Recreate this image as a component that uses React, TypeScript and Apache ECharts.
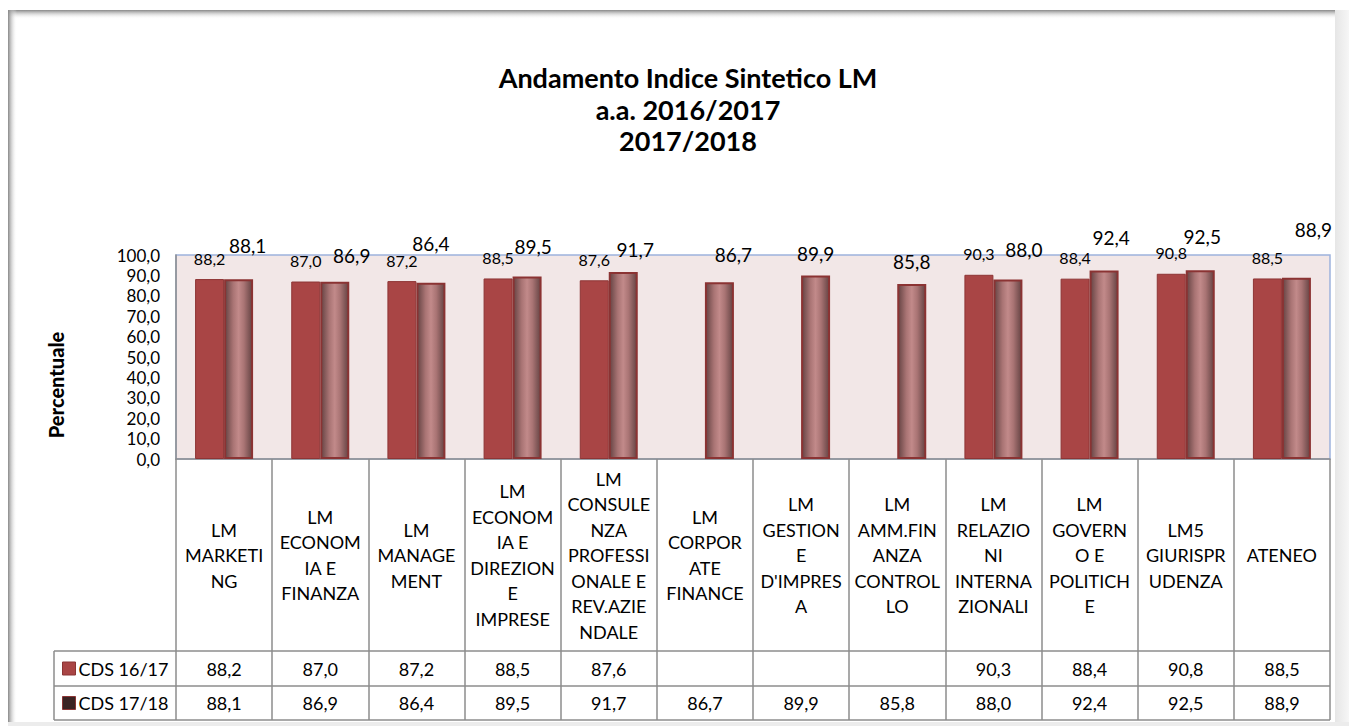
import React, { useEffect, useRef } from "react";
import * as echarts from "echarts";

const categories = [
  "LM\nMARKETI\nNG",
  "LM\nECONOM\nIA E\nFINANZA",
  "LM\nMANAGE\nMENT",
  "LM\nECONOM\nIA E\nDIREZION\nE\nIMPRESE",
  "LM\nCONSULE\nNZA\nPROFESSI\nONALE E\nREV.AZIE\nNDALE",
  "LM\nCORPOR\nATE\nFINANCE",
  "LM\nGESTION\nE\nD'IMPRES\nA",
  "LM\nAMM.FIN\nANZA\nCONTROL\nLO",
  "LM\nRELAZIO\nNI\nINTERNA\nZIONALI",
  "LM\nGOVERN\nO E\nPOLITICH\nE",
  "LM5\nGIURISPR\nUDENZA",
  "ATENEO",
];

const seriesNames = ["CDS 16/17", "CDS 17/18"];
const cds1617: (number | null)[] = [88.2, 87.0, 87.2, 88.5, 87.6, null, null, null, 90.3, 88.4, 90.8, 88.5];
const cds1718: number[] = [88.1, 86.9, 86.4, 89.5, 91.7, 86.7, 89.9, 85.8, 88.0, 92.4, 92.5, 88.9];

const yTicks = { min: 0, max: 100, interval: 10 };

// label nudges (style only) for the 17/18 data labels, as placed in the original
const labelNudgeX = [9, 17, 0, 6, 12, 14, 0, 0, 16, 7, 2, 17];
const labelNudgeY = [-11, -4, -17, -7, 0, -5, 0, 0, -7, -11, -11, -26];

const fmt = (v: number | null | undefined) =>
  v === null || v === undefined ? "" : v.toFixed(1).replace(".", ",");

const FONT = "Lato";

export default function App() {
  const ref = useRef<HTMLDivElement>(null);

  useEffect(() => {
    if (!ref.current) return;
    const chart = echarts.init(ref.current, null, { renderer: "svg" });

    const gridLeft = 176;
    const gridTop = 255;
    const gridRight = 1349 - 1330;
    const gridBottom = 726 - 459;
    const axisY = 459;
    const row1Top = 651;
    const row2Top = 686;
    const tableBottom = 720;
    const tableLeft = 54;
    const tableRight = 1330;
    const lineColor = "#8c8c8c";

    const option: any = {
      animation: false,
      backgroundColor: "#ffffff",
      title: {
        text: "Andamento Indice Sintetico LM\na.a. 2016/2017\n2017/2018",
        left: 688,
        top: 62,
        textAlign: "center",
        padding: 0,
        textStyle: {
          fontFamily: FONT,
          fontWeight: "bold",
          fontSize: 27,
          lineHeight: 31.5,
          color: "#000",
        },
      },
      grid: {
        left: gridLeft,
        top: gridTop,
        right: gridRight,
        bottom: gridBottom,
        show: true,
        backgroundColor: "#F2E7E7",
        borderColor: "#9DB3DD",
        borderWidth: 1.5,
      },
      legend: {
        orient: "vertical",
        left: 62,
        top: 659.5,
        itemWidth: 13,
        itemHeight: 13,
        itemGap: 16.5,
        icon: "rect",
        padding: 0,
        selectedMode: false,
        textStyle: { fontFamily: FONT, fontSize: 18, color: "#000", padding: [0, 0, 0, -2] },
        data: [
          { name: seriesNames[0], itemStyle: { color: "#A94545", borderColor: "#8B3434", borderWidth: 1 } },
          { name: seriesNames[1], itemStyle: { color: "#3A2222", borderColor: "#8B3434", borderWidth: 1 } },
        ],
      },
      xAxis: [
        {
          type: "category",
          data: categories,
          position: "bottom",
          axisLine: { show: true, lineStyle: { color: lineColor, width: 1.5 } },
          axisTick: {
            show: true,
            length: tableBottom - axisY,
            lineStyle: { color: lineColor, width: 1.5 },
          },
          axisLabel: {
            interval: 0,
            margin: 96,
            verticalAlign: "middle",
            fontFamily: FONT,
            fontSize: 18,
            lineHeight: 25.5,
            color: "#000",
            align: "center",
          },
        },
        {
          type: "category",
          data: cds1617.map(fmt),
          position: "bottom",
          axisLine: { show: false },
          axisTick: { show: false },
          axisLabel: {
            interval: 0,
            margin: (row1Top + row2Top) / 2 - axisY,
            verticalAlign: "middle",
            fontFamily: FONT,
            fontSize: 18,
            color: "#000",
          },
        },
        {
          type: "category",
          data: cds1718.map(fmt),
          position: "bottom",
          axisLine: { show: false },
          axisTick: { show: false },
          axisLabel: {
            interval: 0,
            margin: (row2Top + tableBottom) / 2 - axisY,
            verticalAlign: "middle",
            fontFamily: FONT,
            fontSize: 18,
            color: "#000",
          },
        },
      ],
      yAxis: {
        type: "value",
        min: yTicks.min,
        max: yTicks.max,
        interval: yTicks.interval,
        axisLine: { show: true, lineStyle: { color: lineColor, width: 1.5 } },
        axisTick: { show: false },
        splitLine: { show: false },
        axisLabel: {
          margin: 16,
          fontFamily: FONT,
          fontSize: 17,
          color: "#000",
          formatter: (v: number) => fmt(v),
        },
      },
      series: [
        {
          name: seriesNames[0],
          type: "bar",
          barWidth: 29,
          barGap: "0%",
          data: cds1617,
          itemStyle: { color: "#A94545", borderColor: "#8E3535", borderWidth: 1 },
          label: {
            show: true,
            position: "top",
            distance: 13,
            fontFamily: FONT,
            fontSize: 16,
            color: "#000",
            formatter: (p: any) => fmt(p.value),
          },
        },
        {
          name: seriesNames[1],
          type: "bar",
          barWidth: 29,
          data: cds1718.map((v, i) => ({
            value: v,
            label: { offset: [labelNudgeX[i], labelNudgeY[i]] },
          })),
          itemStyle: {
            color: new echarts.graphic.LinearGradient(0, 0, 1, 0, [
              { offset: 0, color: "#664444" },
              { offset: 0.3, color: "#A97474" },
              { offset: 0.5, color: "#C28A8A" },
              { offset: 0.7, color: "#A97474" },
              { offset: 1, color: "#664444" },
            ]),
            borderColor: "#8B3333",
            borderWidth: 2,
          },
          label: {
            show: true,
            position: "top",
            distance: 13,
            fontFamily: FONT,
            fontSize: 19,
            color: "#000",
            formatter: (p: any) => fmt(p.value),
          },
        },
      ],
      graphic: [
        // frame shadow
        {
          type: "rect",
          silent: true,
          shape: { x: 8, y: 10, width: 1327, height: 9 },
          style: {
            fill: new echarts.graphic.LinearGradient(0, 0, 0, 1, [
              { offset: 0, color: "#888888" },
              { offset: 1, color: "rgba(255,255,255,0)" },
            ]),
          },
        },
        {
          type: "rect",
          silent: true,
          shape: { x: 8, y: 10, width: 9, height: 712 },
          style: {
            fill: new echarts.graphic.LinearGradient(0, 0, 1, 0, [
              { offset: 0, color: "#888888" },
              { offset: 1, color: "rgba(255,255,255,0)" },
            ]),
          },
        },
        {
          type: "rect",
          silent: true,
          shape: { x: 1335, y: 10, width: 14, height: 716 },
          style: {
            fill: new echarts.graphic.LinearGradient(0, 0, 1, 0, [
              { offset: 0, color: "#e6e6e6" },
              { offset: 1, color: "#f6f6f6" },
            ]),
          },
        },
        {
          type: "rect",
          silent: true,
          shape: { x: 8, y: 722, width: 1341, height: 4 },
          style: { fill: "#ececec" },
        },
        // table lines
        {
          type: "line",
          silent: true,
          shape: { x1: tableLeft, y1: row1Top, x2: tableRight, y2: row1Top },
          style: { stroke: lineColor, lineWidth: 1.5 },
        },
        {
          type: "line",
          silent: true,
          shape: { x1: tableLeft, y1: row2Top, x2: tableRight, y2: row2Top },
          style: { stroke: lineColor, lineWidth: 1.5 },
        },
        {
          type: "line",
          silent: true,
          shape: { x1: tableLeft, y1: tableBottom, x2: tableRight, y2: tableBottom },
          style: { stroke: lineColor, lineWidth: 1.5 },
        },
        {
          type: "line",
          silent: true,
          shape: { x1: tableLeft, y1: row1Top, x2: tableLeft, y2: tableBottom },
          style: { stroke: lineColor, lineWidth: 1.5 },
        },
        // y-axis title
        {
          type: "text",
          silent: true,
          x: 56,
          y: 385,
          rotation: Math.PI / 2,
          style: {
            text: "Percentuale",
            fontFamily: FONT,
            fontWeight: 900,
            fontSize: 20,
            fill: "#000",
            align: "center",
            verticalAlign: "middle",
          },
        },
      ],
    };

    chart.setOption(option);
    return () => chart.dispose();
  }, []);

  return (
    <div
      ref={ref}
      style={{ position: "fixed", left: 0, top: 0, width: 1349, height: 726 }}
    />
  );
}
